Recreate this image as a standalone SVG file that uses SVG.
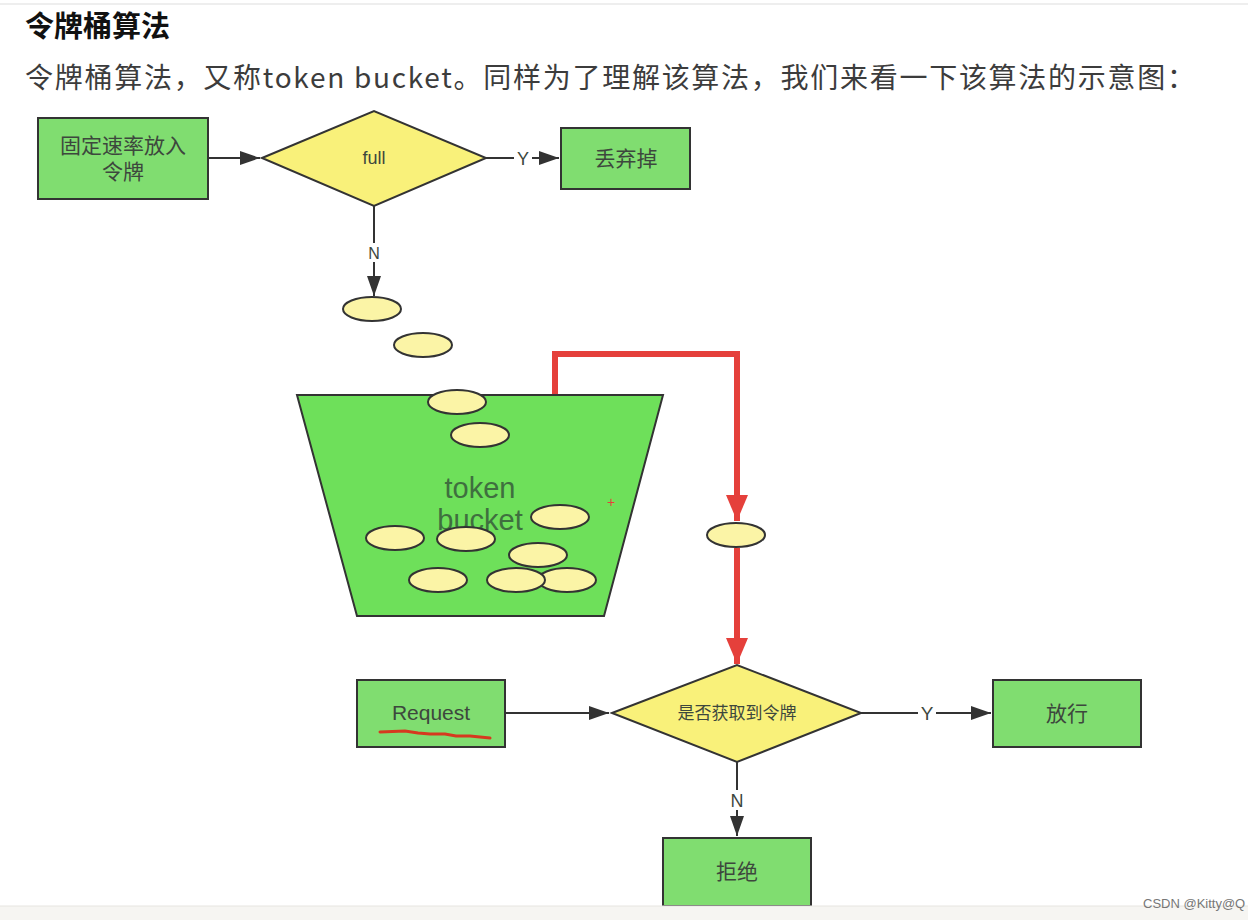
<svg xmlns="http://www.w3.org/2000/svg" width="1248" height="920" viewBox="0 0 1248 920">
<style>
.box{fill:#80dd70;stroke:#333;stroke-width:2}
.dia{fill:#f9f17a;stroke:#333;stroke-width:2}
.tok{fill:#fbf4a6;stroke:#333;stroke-width:2}
.lbl{font-family:"Liberation Sans","Noto Sans CJK SC",sans-serif;fill:#3d473d;text-anchor:middle}
.edge{stroke:#333;stroke-width:2;fill:none}
.red{stroke:#e5403b;stroke-width:6;fill:none}
.cjk{font-family:"Noto Sans CJK SC",sans-serif}
</style>
<defs>
<marker id="ahb" viewBox="0 0 20 14" refX="20" refY="7" markerWidth="20" markerHeight="14" markerUnits="userSpaceOnUse" orient="auto">
<path d="M0,0 L20,7 L0,14 z" fill="#333"/>
</marker>
<marker id="rah" viewBox="0 0 26 22" refX="26" refY="11" markerWidth="26" markerHeight="22" markerUnits="userSpaceOnUse" orient="auto">
<path d="M0,0 L26,11 L0,22 z" fill="#e5403b"/>
</marker>
</defs>
<rect width="1248" height="920" fill="#ffffff"/>
<line x1="0" y1="4" x2="1248" y2="4" stroke="#eeeeee" stroke-width="2"/>
<text x="25" y="37" class="cjk" font-size="29" font-weight="bold" fill="#111">令牌桶算法</text>
<text x="25" y="88" class="cjk" font-size="28" fill="#3c3c3c" textLength="1170" lengthAdjust="spacing">令牌桶算法，又称token bucket。同样为了理解该算法，我们来看一下该算法的示意图：</text>

<g id="connectors">
<line class="edge" x1="208" y1="158" x2="260" y2="158" marker-end="url(#ahb)"/>
<line class="edge" x1="486" y1="158" x2="514" y2="158"/>
<line class="edge" x1="532" y1="158" x2="559" y2="158" marker-end="url(#ahb)"/>
<line class="edge" x1="374" y1="206" x2="374" y2="243"/>
<line class="edge" x1="374" y1="262" x2="374" y2="296" marker-end="url(#ahb)"/>
<polyline class="red" points="555,395 555,354 737,354 737,521" marker-end="url(#rah)"/>
<line class="red" x1="737" y1="548" x2="737" y2="664" marker-end="url(#rah)"/>
<line class="edge" x1="505" y1="713" x2="609" y2="713" marker-end="url(#ahb)"/>
<line class="edge" x1="861" y1="713" x2="918" y2="713"/>
<line class="edge" x1="936" y1="713" x2="991" y2="713" marker-end="url(#ahb)"/>
<line class="edge" x1="737" y1="762" x2="737" y2="790"/>
<line class="edge" x1="737" y1="810" x2="737" y2="836" marker-end="url(#ahb)"/>
<text x="523" y="165" class="lbl" font-size="18">Y</text>
<text x="374" y="259" class="lbl" font-size="16">N</text>
<text x="927" y="720" class="lbl" font-size="19">Y</text>
<text x="737" y="807" class="lbl" font-size="18">N</text>
</g>

<g id="n-fixed-rate">
<rect class="box" x="38" y="118" width="170" height="81"/>
<text x="123" y="153" class="lbl" font-size="21">固定速率放入</text>
<text x="123" y="179" class="lbl" font-size="21">令牌</text>
</g>
<g id="n-full">
<polygon class="dia" points="262,158 374,111 486,158 374,206"/>
<text x="374" y="164" class="lbl" font-size="18">full</text>
</g>
<g id="n-discard">
<rect class="box" x="561" y="128" width="129" height="61"/>
<text x="626" y="166" class="lbl" font-size="21">丢弃掉</text>
</g>

<g id="n-bucket">
<polygon points="297,395 663,395 604,616 357,616" fill="#6ee05a" stroke="#333" stroke-width="2"/>
<text x="480" y="498" class="lbl" font-size="29" style="fill:#3f6f3f">token</text>
<text x="480" y="530" class="lbl" font-size="29" style="fill:#3f6f3f">bucket</text>
<text x="611" y="507" font-family="Liberation Sans,sans-serif" font-size="14" fill="#e5403b" text-anchor="middle">+</text>
</g>

<g id="tokens">
<ellipse class="tok" cx="372" cy="309" rx="29" ry="12"/>
<ellipse class="tok" cx="423" cy="345" rx="29" ry="12"/>
<ellipse class="tok" cx="457" cy="402" rx="29" ry="12"/>
<ellipse class="tok" cx="480" cy="435" rx="29" ry="12"/>
<ellipse class="tok" cx="560" cy="517" rx="29" ry="12"/>
<ellipse class="tok" cx="395" cy="538" rx="29" ry="12"/>
<ellipse class="tok" cx="466" cy="539" rx="29" ry="12"/>
<ellipse class="tok" cx="538" cy="555" rx="29" ry="12"/>
<ellipse class="tok" cx="438" cy="580" rx="29" ry="12"/>
<ellipse class="tok" cx="567" cy="580" rx="29" ry="12"/>
<ellipse class="tok" cx="516" cy="580" rx="29" ry="12"/>
<ellipse class="tok" cx="736" cy="535" rx="29" ry="12"/>
</g>

<g id="n-request">
<rect class="box" x="357" y="680" width="148" height="67"/>
<text x="431" y="720" class="lbl" font-size="21">Request</text>
<path d="M380,732 L405,731 L418,733 L430,734 L445,734 L456,736 L470,736 L490,738" stroke="#d63a1f" stroke-width="3" fill="none" stroke-linecap="round"/>
</g>
<g id="n-got-token">
<polygon class="dia" points="612,713 737,665 861,713 737,762"/>
<text x="737" y="719" class="lbl" font-size="17">是否获取到令牌</text>
</g>
<g id="n-pass">
<rect class="box" x="993" y="680" width="148" height="67"/>
<text x="1067" y="721" class="lbl" font-size="21">放行</text>
</g>
<g id="n-reject">
<rect class="box" x="663" y="838" width="148" height="68"/>
<text x="737" y="879" class="lbl" font-size="21">拒绝</text>
</g>

<rect x="0" y="906" width="1248" height="14" fill="#f6f5f2"/>
<line x1="0" y1="906" x2="1248" y2="906" stroke="#e6e5e0" stroke-width="1"/>
<text x="1143" y="908" font-family="Liberation Sans,sans-serif" font-size="13" fill="#777">CSDN @Kitty@Q</text>
</svg>
